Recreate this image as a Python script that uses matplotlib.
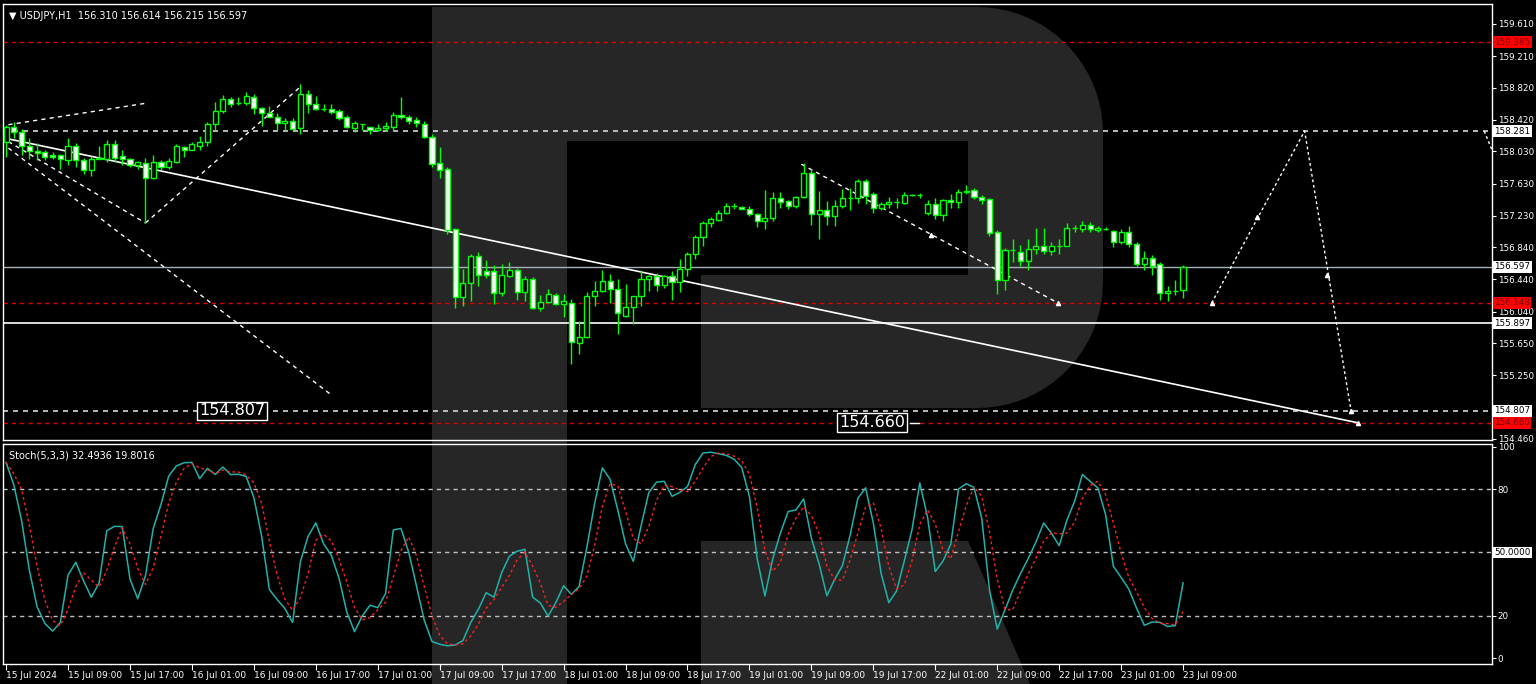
import numpy as np
import pandas as pd
import matplotlib
matplotlib.use("Agg")
import matplotlib.pyplot as plt
from matplotlib.patches import Polygon, Rectangle

# ---------------- data ----------------
opens = [158.15,158.33,158.27,158.10,158.03,158.02,157.99,157.98,157.92,158.10,
         157.92,157.80,157.94,157.94,158.12,157.97,157.93,157.86,157.88,157.70,
         157.90,157.84,157.90,158.08,158.05,158.10,158.14,158.37,158.53,158.68,
         158.63,158.63,158.70,158.57,158.50,158.46,158.38,158.41,158.32,158.74,
         158.62,158.56,158.56,158.53,158.45,158.32,158.37,158.33,158.29,158.32,
         158.33,158.48,158.46,158.42,158.37,158.21,157.88,157.81,157.06,156.22,
         156.40,156.73,156.55,156.55,156.27,156.48,156.56,156.28,156.45,156.09,
         156.16,156.25,156.14,156.15,155.65,155.72,156.23,156.30,156.42,156.32,
         155.99,156.10,156.23,156.45,156.48,156.37,156.48,156.41,156.57,156.76,
         156.97,157.14,157.18,157.26,157.35,157.34,157.32,157.25,157.16,157.20,
         157.45,157.41,157.35,157.46,157.76,157.25,157.30,157.23,157.35,157.45,
         157.45,157.66,157.50,157.33,157.37,157.40,157.39,157.49,157.49,157.26,
         157.37,157.24,157.42,157.40,157.53,157.55,157.46,157.44,157.03,156.43,
         156.80,156.78,156.67,156.82,156.85,156.79,156.86,156.86,157.08,157.06,
         157.12,157.05,157.07,157.04,156.90,157.03,156.88,156.63,156.70,156.63,
         156.27,156.30,156.310]
highs = [158.36,158.39,158.31,158.20,158.13,158.05,158.02,158.00,158.20,158.13,
         157.95,157.97,158.10,158.17,158.17,158.05,157.95,157.91,157.95,157.98,
         157.92,157.95,158.12,158.10,158.15,158.22,158.39,158.64,158.73,158.70,
         158.71,158.76,158.74,158.58,158.59,158.51,158.44,158.44,158.86,158.79,
         158.72,158.62,158.62,158.55,158.48,158.41,158.37,158.33,158.37,158.39,
         158.52,158.70,158.48,158.45,158.40,158.24,158.08,157.83,157.08,156.57,
         156.76,156.78,156.68,156.62,156.63,156.65,156.58,156.48,156.47,156.25,
         156.32,156.27,156.26,156.20,155.93,156.28,156.42,156.56,156.51,156.45,
         156.38,156.24,156.56,156.49,156.52,156.50,156.55,156.69,156.78,156.99,
         157.17,157.21,157.30,157.39,157.39,157.35,157.35,157.27,157.55,157.52,
         157.52,157.43,157.47,157.89,157.81,157.54,157.41,157.43,157.56,157.58,
         157.68,157.68,157.52,157.40,157.46,157.45,157.53,157.50,157.51,157.42,
         157.45,157.44,157.50,157.56,157.61,157.57,157.49,157.45,157.05,156.83,
         156.94,156.87,156.94,157.08,157.08,156.90,156.94,157.14,157.12,157.16,
         157.15,157.10,157.09,157.05,157.06,157.10,156.91,156.79,156.74,156.65,
         156.36,156.43,156.614]
lows = [157.96,158.19,157.98,157.93,157.92,157.92,157.93,157.81,157.86,157.83,
        157.75,157.72,157.93,157.90,157.90,157.86,157.84,157.81,157.14,157.69,
        157.80,157.81,157.88,157.96,158.04,158.05,158.10,158.29,158.51,158.58,
        158.60,158.61,158.49,158.34,158.45,158.30,158.30,158.30,158.25,158.51,
        158.54,158.53,158.49,158.42,158.32,158.27,158.30,158.25,158.28,158.28,
        158.28,158.43,158.37,158.33,158.20,157.84,157.70,157.00,156.09,156.11,
        156.17,156.36,156.46,156.14,156.23,156.47,156.19,156.17,156.07,156.05,
        156.15,156.12,155.97,155.39,155.51,155.71,156.11,156.28,156.15,155.76,
        155.97,155.89,156.11,156.30,156.30,156.33,156.19,156.28,156.48,156.69,
        156.86,157.09,157.16,157.25,157.32,157.31,157.23,157.09,157.06,157.17,
        157.33,157.32,157.33,157.45,157.11,156.94,157.12,157.10,157.33,157.30,
        157.39,157.38,157.26,157.30,157.33,157.33,157.37,157.47,157.45,157.24,
        157.19,157.16,157.33,157.33,157.50,157.44,157.37,156.98,156.26,156.31,
        156.66,156.61,156.56,156.76,156.76,156.74,156.76,156.85,157.03,157.03,
        157.03,157.03,157.05,156.84,156.88,156.84,156.61,156.56,156.49,156.18,
        156.17,156.25,156.215]
closes = [158.33,158.27,158.10,158.03,158.01,157.96,157.96,157.94,158.10,157.92,
          157.80,157.94,157.95,158.12,157.95,157.93,157.86,157.90,157.70,157.90,
          157.84,157.91,158.09,158.05,158.12,158.14,158.37,158.53,158.68,158.62,
          158.63,158.72,158.57,158.50,158.46,158.38,158.41,158.31,158.74,158.62,
          158.56,158.56,158.52,158.44,158.33,158.38,158.37,158.29,158.32,158.35,
          158.48,158.46,158.41,158.38,158.21,157.87,157.80,157.05,156.22,156.40,
          156.73,156.50,156.50,156.27,156.50,156.56,156.28,156.45,156.09,156.16,
          156.26,156.14,156.17,155.66,155.72,156.23,156.30,156.42,156.32,156.02,
          156.10,156.23,156.45,156.48,156.37,156.48,156.41,156.57,156.76,156.97,
          157.14,157.19,157.26,157.35,157.35,157.32,157.25,157.16,157.20,157.45,
          157.40,157.35,157.46,157.76,157.25,157.30,157.23,157.35,157.45,157.45,
          157.66,157.48,157.33,157.38,157.40,157.40,157.49,157.49,157.49,157.37,
          157.24,157.43,157.40,157.53,157.54,157.46,157.43,157.02,156.43,156.80,
          156.80,156.67,156.82,156.85,156.79,156.86,156.86,157.08,157.08,157.12,
          157.06,157.08,157.07,156.90,157.03,156.88,156.63,156.70,156.61,156.27,
          156.30,156.30,156.597]

x_labels = ["15 Jul 2024","15 Jul 09:00","15 Jul 17:00","16 Jul 01:00","16 Jul 09:00",
            "16 Jul 17:00","17 Jul 01:00","17 Jul 09:00","17 Jul 17:00","18 Jul 01:00",
            "18 Jul 09:00","18 Jul 17:00","19 Jul 01:00","19 Jul 09:00","19 Jul 17:00",
            "22 Jul 01:00","22 Jul 09:00","22 Jul 17:00","23 Jul 01:00","23 Jul 09:00"]
price_ticks = [159.610,159.210,158.820,158.420,158.030,157.630,157.230,156.840,
               156.440,156.040,155.650,155.250,154.460]
# horizontal levels: (price, kind)
levels = [(159.385,"red"),(158.281,"white_dash"),(156.597,"grey"),(156.148,"red"),
          (155.897,"white"),(154.807,"white_dash"),(154.660,"red")]
# trend / analysis lines: bar index and price pairs
trend_line = ([0.5,174.6],[158.18,154.66])
dash_lines = [([0.3,18.3],[158.36,158.63]),
              ([0.3,18.0],[158.15,157.14]),
              ([0.3,42.1],[158.07,155.00]),
              ([18.0,38.0],[157.14,158.83]),
              ([102.7,135.8],[157.87,156.15])]
forecast_x = [155.7,167.7,173.7]
forecast_y = [156.148,158.281,154.807]
marker_x = [119.5,135.8,155.7,161.6,170.6,173.7,174.6]
marker_y = [156.99,156.15,156.148,157.22,156.50,154.807,154.66]

# ---------------- layout ----------------
W, H = 1536, 684
fig = plt.figure(figsize=(W/100, H/100), dpi=100, facecolor="black")

def frac(x0, y0, x1, y1):
    return [x0/W, 1-y1/H, (x1-x0)/W, (y1-y0)/H]

# logo background
bg = fig.add_axes([0,0,1,1], zorder=-5)
bg.set_xlim(0, W); bg.set_ylim(H, 0); bg.axis("off"); bg.set_facecolor("black")
g = "#262626"
def rounded_bowl():
    pts = [(567,7),(977,7)]
    r = 126
    for a in np.linspace(90,0,20):
        pts.append((977+r*np.cos(np.radians(a)), 133-r*np.sin(np.radians(a))))
    for a in np.linspace(0,-90,20):
        pts.append((977+r*np.cos(np.radians(a)), 282-r*np.sin(np.radians(a))))
    pts += [(701,408),(701,275),(968,275),(968,141),(567,141)]
    return pts
bg.add_patch(Polygon(rounded_bowl(), closed=True, color=g, lw=0))
bg.add_patch(Rectangle((432,7),135,677, color=g, lw=0))
bg.add_patch(Polygon([(701,541),(968,541),(1030,684),(701,684)], closed=True, color=g, lw=0))

ax = fig.add_axes(frac(3,4,1492,440))
ax2 = fig.add_axes(frac(3,444,1492,664))
for a in (ax, ax2):
    a.set_facecolor("none")
    for s in a.spines.values():
        s.set_color("white"); s.set_linewidth(1)
    a.set_xlim(-0.4, 191.9)

n = len(closes)
idx = np.arange(n)
o = np.array(opens); c = np.array(closes); hi = np.array(highs); lo = np.array(lows)
green = "#00ff00"
ax.vlines(idx, lo, hi, color=green, lw=1, zorder=3)
bull = c >= o
ax.bar(idx[bull], c[bull]-o[bull], bottom=o[bull], width=0.66, facecolor="black",
       edgecolor=green, lw=1, zorder=4)
ax.bar(idx[~bull], o[~bull]-c[~bull], bottom=c[~bull], width=0.66, facecolor="white",
       edgecolor=green, lw=1, zorder=4)

ax.set_ylim(154.447, 159.858)
for p, kind in levels:
    if kind == "red":
        ax.axhline(p, color="#e00000", lw=1, ls=(0,(3,3)), zorder=2)
    elif kind == "white_dash":
        ax.axhline(p, color="#d8d8d8", lw=1.2, ls=(0,(3,3)), zorder=2)
    elif kind == "grey":
        ax.axhline(p, color="#a8b0b8", lw=1, zorder=2)
    else:
        ax.axhline(p, color="white", lw=1.2, zorder=2)

ax.plot(trend_line[0], trend_line[1], color="white", lw=1.2, zorder=2)
for xs, ys in dash_lines:
    ax.plot(xs, ys, color="white", lw=1, ls=(0,(3,3)), zorder=2)
ax.plot(forecast_x, forecast_y, color="white", lw=1, ls=(0,(2,2)), zorder=2)
ax.plot([190.9,192.0],[158.281,158.02], color="white", lw=1, ls=(0,(2,2)), clip_on=False)
ax.plot(marker_x, marker_y, ls="none", marker="^", ms=3, color="white", zorder=5)

ax.yaxis.tick_right()
ax.set_yticks(price_ticks)
ax.set_yticklabels([f"{t:.3f}" for t in price_ticks])
ax.tick_params(axis="y", colors="white", labelsize=6.3, length=3, pad=1.5)
ax.set_xticks([])

for p, kind in levels:
    if kind == "red":
        fc, tc = "#ff0000", "#7a0000"
    else:
        fc, tc = "white", "black"
    ax.text(1.0015, p, f"{p:.3f}", transform=ax.get_yaxis_transform(), fontsize=6.3,
            color=tc, va="center", ha="left", zorder=10, clip_on=False,
            bbox=dict(boxstyle="square,pad=0.15", fc=fc, ec="none"))

ax.text(29.2, 154.807, "154.807", fontsize=11.5, color="white", ha="center", va="center",
        bbox=dict(boxstyle="square,pad=0.12", fc="black", ec="white", lw=1), zorder=8)
ax.text(111.8, 154.660, "154.660", fontsize=11.5, color="white", ha="center", va="center",
        bbox=dict(boxstyle="square,pad=0.12", fc="black", ec="white", lw=1), zorder=8)
ax.plot([116.8,117.9],[154.66,154.66], color="white", lw=1, zorder=8)
ax.text(0.004, 0.985, "\u25bc USDJPY,H1  156.310 156.614 156.215 156.597",
        transform=ax.transAxes, color="white", fontsize=7, va="top", ha="left")

# stochastic (5,3,3) from the OHLC series
s = pd.DataFrame({"h": hi, "l": lo, "c": c})
ll = s["l"].rolling(5, min_periods=1).min()
hh = s["h"].rolling(5, min_periods=1).max()
num = (s["c"] - ll).rolling(3, min_periods=1).sum()
den = (hh - ll).rolling(3, min_periods=1).sum()
k = 100 * num / den
d = k.rolling(3, min_periods=1).mean()
ax2.set_ylim(-2.8, 101.3)
for lv in (80, 50, 20):
    ax2.axhline(lv, color="#c0c0c0", lw=1, ls=(0,(3,3)), zorder=1)
ax2.plot(idx, k, color="#20b2aa", lw=1.1, zorder=3)
ax2.plot(idx, d, color="#ff2020", lw=1, ls=(0,(2,2)), zorder=3)
ax2.yaxis.tick_right()
ax2.set_yticks([100, 80, 50, 20, 0])
ax2.set_yticklabels(["100", "80", "", "20", "0"])
ax2.tick_params(axis="y", colors="white", labelsize=6.3, length=3, pad=1)
ax2.text(1.0015, 50, "50.0000", transform=ax2.get_yaxis_transform(), fontsize=6.3,
         color="black", va="center", ha="left", clip_on=False,
         bbox=dict(boxstyle="square,pad=0.15", fc="white", ec="none"))
ax2.text(0.004, 0.97, "Stoch(5,3,3) 32.4936 19.8016",
         transform=ax2.transAxes, color="white", fontsize=7, va="top", ha="left")
xt = np.arange(0, 8*len(x_labels), 8)
ax2.set_xticks(xt)
ax2.set_xticklabels(x_labels, ha="left")
ax2.tick_params(axis="x", colors="white", labelsize=6.5, length=4, pad=1)

fig.savefig("out.png", dpi=100, facecolor="black")
